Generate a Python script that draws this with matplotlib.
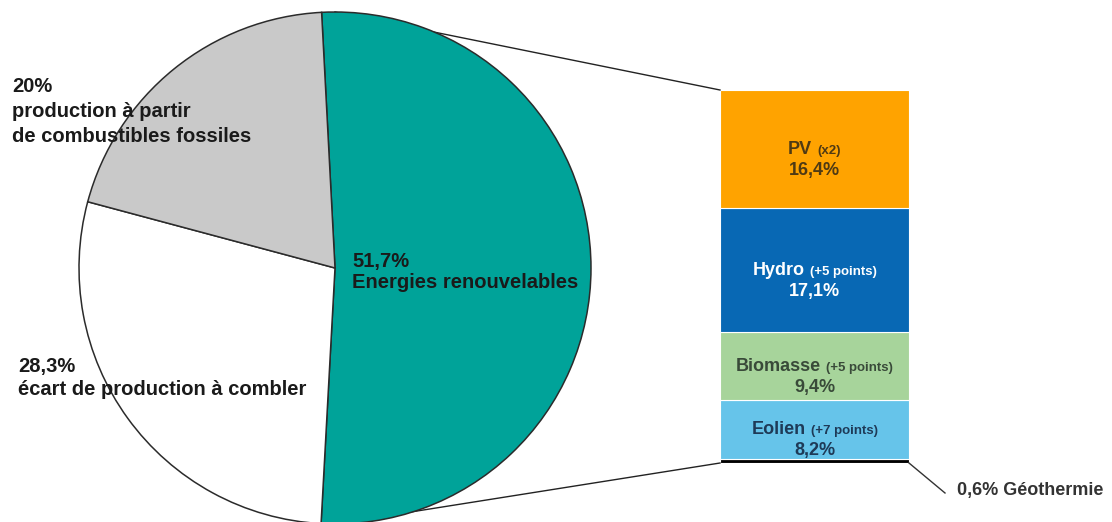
import matplotlib
matplotlib.use("Agg")
import matplotlib.pyplot as plt

plt.rcParams['font.family'] = ['Liberation Sans', 'DejaVu Sans']

# Data
pie_labels = ["Energies renouvelables", "écart de production à combler", "production à partir de combustibles fossiles"]
pie_values = [51.7, 28.3, 20.0]
pie_colors = ["#00A399", "#FFFFFF", "#C9C9C9"]

bar_names = ["Géothermie", "Eolien", "Biomasse", "Hydro", "PV"]
bar_notes = ["", "(+7 points)", "(+5 points)", "(+5 points)", "(x2)"]
bar_values = [0.6, 8.2, 9.4, 17.1, 16.4]
bar_value_labels = ["0,6%", "8,2%", "9,4%", "17,1%", "16,4%"]
bar_colors = ["#000000", "#66C4EA", "#A7D49B", "#0868B4", "#FFA300"]
bar_text_colors = ["#333333", "#1E3A57", "#394A39", "#FFFFFF", "#4F3A14"]

W, H = 1112, 522
fig = plt.figure(figsize=(W / 100, H / 100), dpi=100)

# Bar axes (drawn underneath the main overlay axes)
bx0, bx1 = 720, 909
by0, by1 = H - 463, H - 90
axb = fig.add_axes([bx0 / W, by0 / H, (bx1 - bx0) / W, (by1 - by0) / H])
axb.set_zorder(1)
total = sum(bar_values)
bottoms = []
acc = 0
for v in bar_values:
    bottoms.append(acc)
    acc += v
axb.bar([0] * len(bar_values), bar_values, bottom=bottoms, width=1.0,
        color=bar_colors, edgecolor="white", linewidth=0.8, align='center')
axb.set_xlim(-0.5, 0.5)
axb.set_ylim(0, total)
axb.axis('off')

ax = fig.add_axes([0, 0, 1, 1])
ax.set_zorder(2)
ax.patch.set_alpha(0)

cx, cy, r = 335, H - 268, 256
ax.pie(pie_values, colors=pie_colors, startangle=93, counterclock=False,
       center=(cx, cy), radius=r, frame=True,
       wedgeprops=dict(edgecolor="#2b2b2b", linewidth=1.1))
ax.set_xlim(0, W)
ax.set_ylim(0, H)
ax.set_aspect('auto')
ax.axis('off')

# Connector lines (pixel coords in main axes)
ax.plot([cx, bx0], [H - 12, by1], color="#222222", lw=1.0, zorder=0)
ax.plot([cx, bx0], [H - 524, by0], color="#222222", lw=1.0, zorder=0)
ax.plot([bx1, 945], [by0, H - 493], color="#333333", lw=1.0, zorder=5)
ax.text(957, H - 495, "0,6% Géothermie", fontsize=13, fontweight='bold',
        color="#333333", ha='left', va='baseline')

# Bar labels
fig.canvas.draw()
renderer = fig.canvas.get_renderer()
bcx = (bx0 + bx1) / 2
px_per = (by1 - by0) / total
for i in range(1, len(bar_values)):
    mid = by0 + (bottoms[i] + bar_values[i] / 2) * px_per
    col = bar_text_colors[i]
    t1 = ax.text(0, mid - 5, bar_names[i], fontsize=13, fontweight='bold',
                 color=col, ha='left', va='baseline', zorder=10)
    t2 = ax.text(0, mid - 5, bar_notes[i], fontsize=9.5, fontweight='bold',
                 color=col, ha='left', va='baseline', zorder=10)
    w1 = t1.get_window_extent(renderer).width
    w2 = t2.get_window_extent(renderer).width
    gap = 5
    start = bcx - (w1 + gap + w2) / 2
    t1.set_x(start)
    t2.set_x(start + w1 + gap)
    ax.text(bcx, mid - 26, bar_value_labels[i], fontsize=13, fontweight='bold',
            color=col, ha='center', va='baseline', zorder=10)

# Pie labels
txt_kw = dict(fontsize=14.5, fontweight='bold', color="#1a1a1a",
              ha='left', va='baseline', zorder=10)
ax.text(352, H - 267, "51,7%", **txt_kw)
ax.text(352, H - 288, "Energies renouvelables", **txt_kw)
ax.text(12, H - 92, "20%", **txt_kw)
ax.text(12, H - 117, "production à partir", **txt_kw)
ax.text(12, H - 142, "de combustibles fossiles", **txt_kw)
ax.text(18, H - 372, "28,3%", **txt_kw)
ax.text(18, H - 395, "écart de production à combler", **txt_kw)

fig.savefig("out.png", dpi=100)
